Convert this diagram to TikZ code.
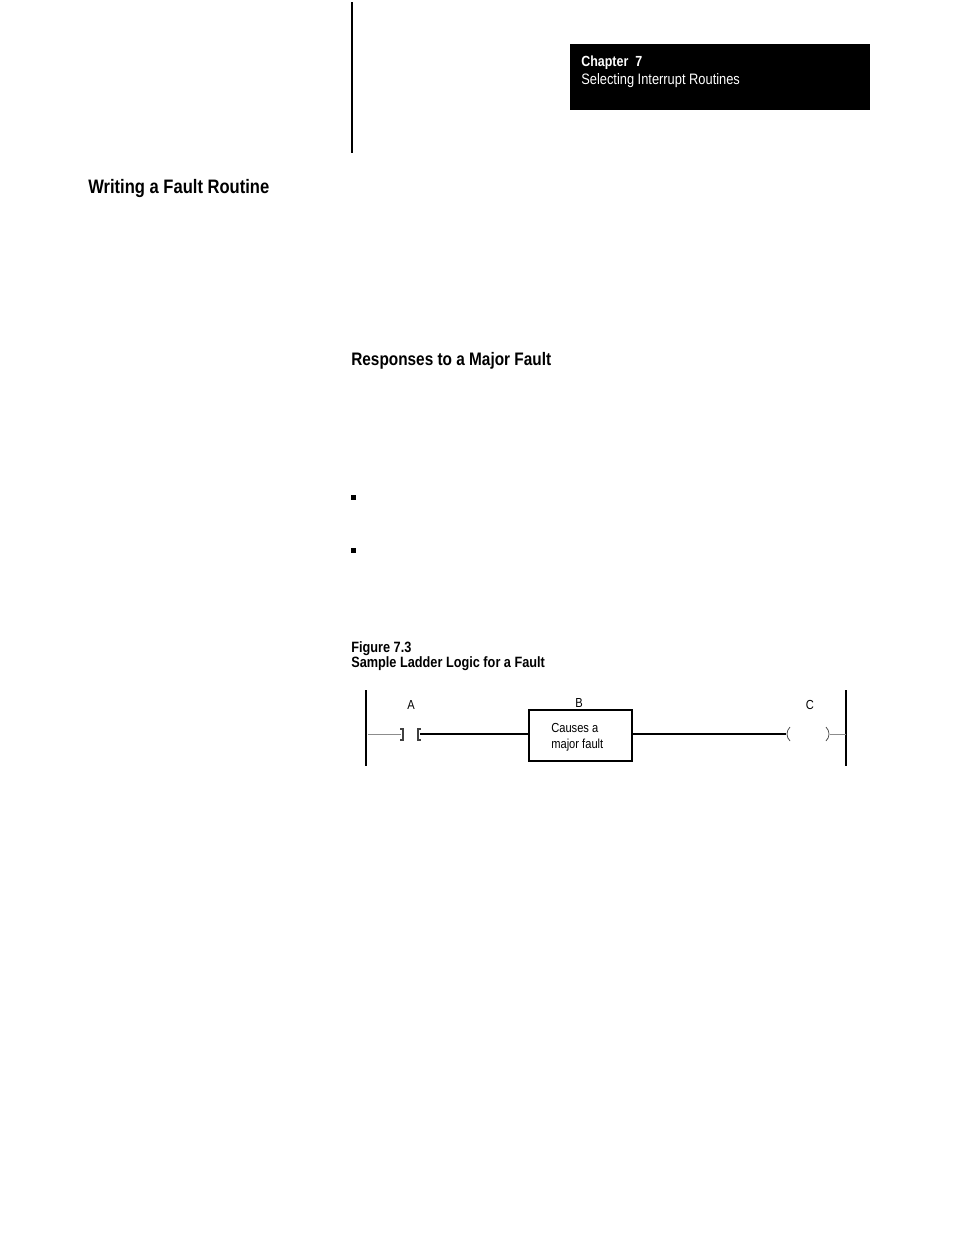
\documentclass[tikz,border=0pt]{standalone}
\usepackage{fontspec}
\setmainfont{Liberation Sans}[FakeStretch=0.85]
\begin{document}
\begin{tikzpicture}[x=0.6415pt,y=-0.6415pt,
    txt/.style={anchor=base west,inner sep=0pt},
    heading/.style={txt,font=\bfseries\fontsize{12.5}{14}\selectfont},
    subheading/.style={txt,font=\bfseries\fontsize{11.6}{13}\selectfont},
    caption/.style={txt,font=\bfseries\fontsize{9.6}{11}\selectfont},
    lbl/.style={inner sep=0pt,font=\fontsize{8.4}{10}\selectfont},
    rail/.style={line width=0.8pt},
    wire/.style={line width=0.8pt},
    stub/.style={line width=0.5pt,black!45}]
\useasboundingbox (0,0) rectangle (954,1235);
% page furniture
\draw[line width=0.9pt] (352,2) -- (352,153);
\fill (570,44) rectangle (870,110);
\node[txt,white,font=\bfseries\fontsize{9.4}{11}\selectfont] (chap) at (581,66) {Chapter\ \ 7};
\node[txt,white,font=\fontsize{9.7}{11}\selectfont] (chaptitle) at (581,84) {Selecting Interrupt Routines};
\node[heading] (secWrite) at (88,193) {Writing a Fault Routine};
\node[subheading] (secResp) at (351,365) {Responses to a Major Fault};
\fill (351,495) rectangle (356,500);
\fill (351,548) rectangle (356,553);
\node[caption] (fignum) at (351,652) {Figure 7.3};
\node[caption] (figtitle) at (351,667) {Sample Ladder Logic for a Fault};
% ladder rung
\draw[rail] (366,690) -- (366,766);
\draw[rail] (846,690) -- (846,766);
\coordinate (railL) at (368,734);
\coordinate (railR) at (846,734);
\coordinate (contactL) at (401,734);
\coordinate (contactR) at (420,734);
\coordinate (coilL) at (786,734);
\coordinate (coilR) at (830,734);
\draw[line width=1.1pt,black!75] (400,729) -- (403,729) -- (403,740) -- (400,740);
\draw[line width=1.1pt,black!75] (421,729) -- (418,729) -- (418,740) -- (421,740);
\draw[line width=0.5pt,black!70] (790,727) .. controls (786,731) and (786,737) .. (790,741);
\draw[line width=0.5pt,black!70] (826,727) .. controls (830,731) and (830,737) .. (826,741);
\node[draw,line width=0.8pt,minimum width=103*0.6415pt,minimum height=51*0.6415pt,inner sep=0pt] (boxB) at (580.5,735.5) {};
\node[lbl,align=left,anchor=west] (boxtext) at (551,737) {Causes a\\major fault};
\node[lbl] (labA) at (411,705) {A};
\node[lbl] (labB) at (579,703) {B};
\node[lbl] (labC) at (810,705) {C};
\draw[stub] (railL) -- (contactL);
\draw[wire] (contactR) -- (contactR -| boxB.west);
\draw[wire] (coilL -| boxB.east) -- (coilL);
\draw[stub] (coilR) -- (railR);
\end{tikzpicture}
\end{document}
